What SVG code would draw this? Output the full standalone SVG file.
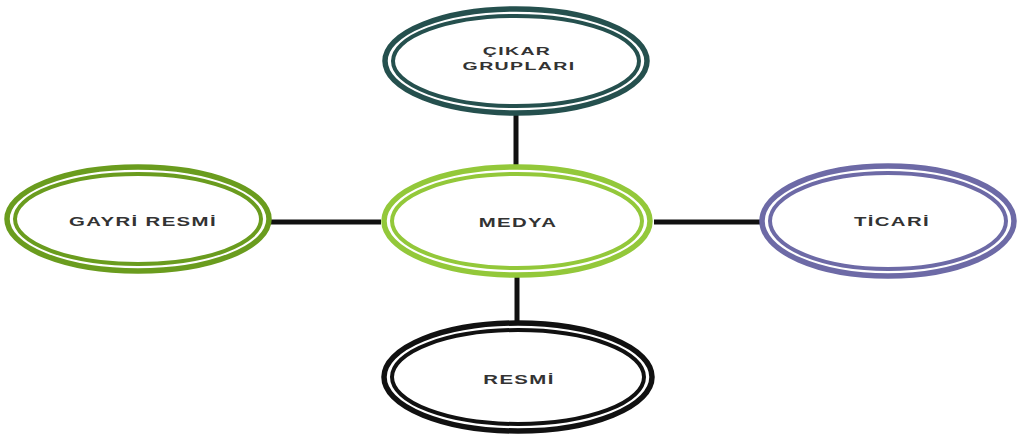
<svg xmlns="http://www.w3.org/2000/svg" width="1019" height="436" viewBox="0 0 1019 436">
<style>
.o{fill:#fff;stroke-width:5.5}
.i{fill:none;stroke-width:4}
.t{font-family:"Liberation Sans",Arial,sans-serif;font-weight:bold;font-size:12px;fill:#333;text-anchor:middle;letter-spacing:0.8px;stroke:none}
.s{font-size:11.5px}
.c{stroke:#111;stroke-width:5}
.d{fill:#222;stroke:none}
</style>
<rect width="1019" height="436" fill="#fff"/>
<g id="connectors">
<line class="c" x1="516" y1="114" x2="516" y2="168"/>
<line class="c" x1="517" y1="276" x2="517" y2="326"/>
<line class="c" x1="268" y1="222" x2="381" y2="222"/>
<line class="c" x1="654" y1="222" x2="762" y2="222"/>
<circle class="d" cx="391" cy="222" r="1.8"/>
<circle class="d" cx="643" cy="222" r="1.8"/>
</g>
<g id="cikar" stroke="#25504e">
<ellipse class="o" cx="516" cy="61" rx="131" ry="52"/>
<ellipse class="i" cx="516" cy="61" rx="123" ry="45"/>
<text class="t s" transform="translate(517,55) scale(1.7,1)">ÇIKAR</text>
<text class="t s" transform="translate(519,70) scale(1.7,1)">GRUPLARI</text>
</g>
<g id="medya" stroke="#93c83a">
<ellipse class="o" cx="517" cy="221" rx="133" ry="54"/>
<ellipse class="i" cx="517" cy="221" rx="125" ry="47"/>
<text class="t" transform="translate(518,227) scale(1.7,1)">MEDYA</text>
</g>
<g id="gayri" stroke="#6a9c1e">
<ellipse class="o" cx="138" cy="219" rx="131" ry="52"/>
<ellipse class="i" cx="138" cy="219" rx="123" ry="45"/>
<text class="t" transform="translate(143,226) scale(1.7,1)">GAYRİ RESMİ</text>
</g>
<g id="ticari" stroke="#6d6aa6">
<ellipse class="o" cx="888" cy="221" rx="126" ry="55"/>
<ellipse class="i" cx="888" cy="221" rx="118" ry="48"/>
<text class="t" transform="translate(892,226) scale(1.7,1)">TİCARİ</text>
</g>
<g id="resmi" stroke="#111">
<ellipse class="o" cx="518" cy="377" rx="134" ry="54"/>
<ellipse class="i" cx="518" cy="377" rx="126" ry="47"/>
<text class="t" transform="translate(519,384) scale(1.7,1)">RESMİ</text>
</g>
</svg>
